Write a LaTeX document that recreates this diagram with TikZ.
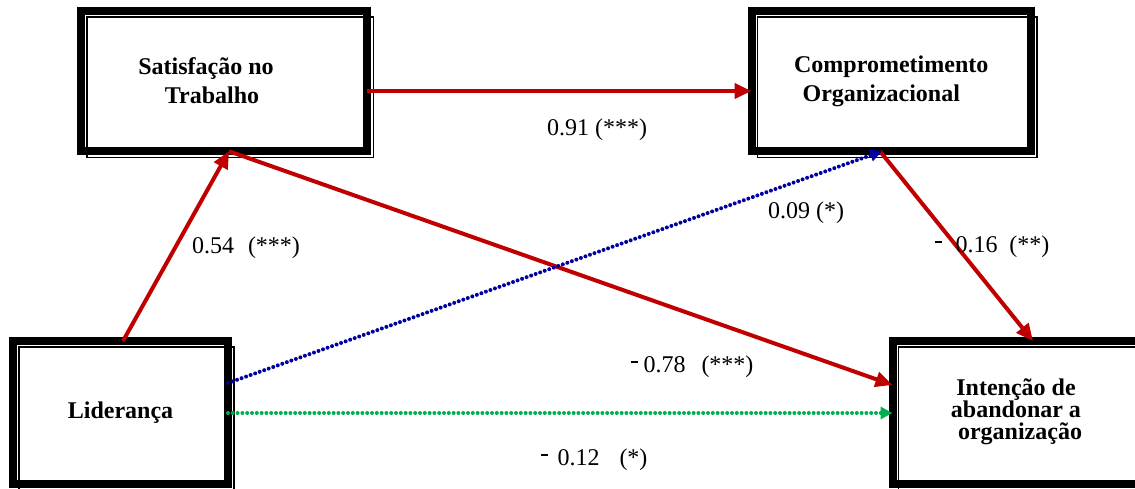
\documentclass[tikz,border=0pt]{standalone}
\usepackage{fontspec}
\setmainfont{Liberation Serif}
\usetikzlibrary{arrows.meta}
\definecolor{pathred}{RGB}{192,0,0}
\definecolor{pathblue}{RGB}{0,0,160}
\definecolor{pathgreen}{RGB}{0,176,80}
\tikzset{
  varbox/.style={draw, line width=4pt, outer sep=0pt, inner sep=0pt, align=center,
    font=\bfseries\fontsize{12}{14.5}\selectfont},
  redpath/.style={draw=pathred, line width=2pt, -{Triangle[length=8.5pt,width=7.5pt]}},
  dotpath/.style={line width=2pt, line cap=round, dash pattern=on 0pt off 2.4pt,
    -{Triangle[length=6pt,width=6pt]}},
  coef/.style={inner sep=0pt, anchor=base, font=\fontsize{12}{14}\selectfont}
}
\newcommand{\minussign}{\rule[0.38em]{3.5pt}{1.1pt}}
\begin{document}
\begin{tikzpicture}[x=0.5pt, y=-0.5pt]
    \useasboundingbox (0,0) rectangle (1135,488);
    % variables
    \node[varbox, minimum width=143.25pt, minimum height=70.25pt] (sat) at (224,81)
        {Satisfação no\hspace*{18pt}\\Trabalho\hspace*{12pt}};
    \node[varbox, minimum width=139.75pt, minimum height=70.25pt] (com) at (891.25,81)
        {Comprometimento\\Organizacional\hspace*{10pt}};
    \node[varbox, minimum width=107.5pt, minimum height=71.25pt] (lid) at (120.5,412.25)
        {Liderança};
    \node[varbox, minimum width=123.5pt, minimum height=71.25pt,
        font=\bfseries\fontsize{12}{11}\selectfont] (int) at (1016,412.25)
        {Intenção de\\abandonar a\\\hspace*{4pt}organização};
    \foreach \b in {sat,com,lid,int}
        \draw[line width=0.75pt] ([shift={(6,6)}]\b.north west) rectangle ([shift={(6,6)}]\b.south east);
    % paths
    \draw[redpath] (sat.east |- 0,91) -- (com.west |- 0,91);
    \draw[redpath] (lid.north -| 123,0) -- (sat.south -| 229,0);
    \draw[redpath] (sat.south -| 229,0) -- (int.west |- 0,385);
    \draw[redpath] (com.south -| 880,0) -- (int.north -| 1033,0);
    \draw[dotpath, pathblue] (lid.east |- 0,383) -- (com.south -| 882,0);
    \draw[dotpath, pathgreen] (lid.east |- 0,413) -- (int.west |- 0,413);
    % coefficients
    \node[coef] (c91) at (597,135) {0.91 (***)};
    \node[coef] (c54) at (246,253) {0.54\hspace{7pt}(***)};
    \node[coef] (c09) at (806,218) {0.09 (*)};
    \node[coef] (c16) at (992,252) {\minussign\hspace{7pt}0.16\hspace{6pt}(**)};
    \node[coef] (c78) at (692,372) {\minussign\hspace{3pt}0.78\hspace{8pt}(***)};
    \node[coef] (c12) at (594,465) {\minussign\hspace{5pt}0.12\hspace{10pt}(*)};
\end{tikzpicture}
\end{document}
